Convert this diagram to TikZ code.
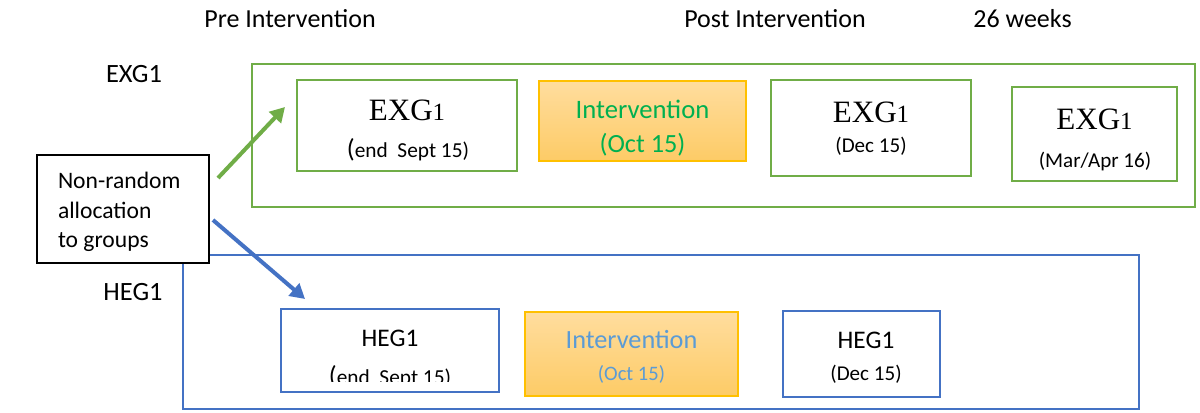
\documentclass[tikz,border=0pt]{standalone}
\usepackage{fontspec}
\setmainfont{Carlito}
\newfontfamily\serifface{Liberation Serif}
\usetikzlibrary{arrows.meta}
\definecolor{grn}{HTML}{70AD47}
\definecolor{blu}{HTML}{4472C4}
\definecolor{gtxt}{HTML}{00B050}
\definecolor{btxt}{HTML}{5B9BD5}
\definecolor{ordraw}{HTML}{FFC000}
\definecolor{ortop}{HTML}{FFDD9E}
\definecolor{orbot}{HTML}{FDCB66}
\def\pxu{0.75pt}
\newcommand{\exgname}{{\serifface\fontsize{23.3}{26}\selectfont EXG\fontsize{18.6}{22}\selectfont 1}}
\begin{document}
\begin{tikzpicture}[x=0.75pt,y=-0.75pt,
  box/.style={draw, inner sep=0pt, outer sep=0pt, line width=2.2pt},
  gbox/.style={box, draw=grn},
  bbox/.style={box, draw=blu},
  ibox/.style={box, draw=ordraw, line width=0.8pt, top color=ortop, bottom color=orbot},
  nrbox/.style={box, draw=black, fill=white, line width=1.2pt},
  txt/.style={inner sep=0pt, outer sep=0pt, anchor=base},
  hdr/.style={txt, font=\fontsize{19.5}{23}\selectfont},
  side/.style={txt, font=\fontsize{19.8}{23}\selectfont},
  sub/.style={txt, font=\fontsize{15.8}{19}\selectfont},
  heg/.style={txt, font=\fontsize{19}{22}\selectfont},
  arr/.style={line width=3pt, -{Triangle[length=11pt,width=12pt]}}
]
\useasboundingbox (0,0) rectangle (1200,412);

% column headings
\node[hdr] (pre)  at (290,27) {Pre Intervention};
\node[hdr] (post) at (775,27) {Post Intervention};
\node[hdr] (wk)   at (1022.5,27) {26 weeks};

% group labels
\node[side] (lexg) at (134,82) {EXG1};
\node[side] (lheg) at (133,300) {HEG1};

% group frames
\node[gbox, minimum width=943*\pxu, minimum height=143*\pxu] (gframe) at (723.5,135.5) {};
\node[bbox, minimum width=956*\pxu, minimum height=154*\pxu] (bframe) at (661,332) {};

% allocation box
\node[nrbox, minimum width=172*\pxu, minimum height=108*\pxu] (nr) at (123,209) {};
\node[txt, anchor=base west, font=\fontsize{17.7}{21}\selectfont] (nr1) at (58,188) {Non-random};
\node[txt, anchor=base west, font=\fontsize{17.7}{21}\selectfont] (nr2) at (58,218) {allocation};
\node[txt, anchor=base west, font=\fontsize{17.7}{21}\selectfont] (nr3) at (58,247) {to groups};

% EXG1 row
\node[gbox, minimum width=220*\pxu, minimum height=91*\pxu] (e1) at (407,125.5) {};
\node[txt] (e1a) at (407,120.5) {\exgname};
\node[sub, font=\fontsize{16}{19}\selectfont] (e1b) at (408,157) {{\fontsize{19.5}{19}\selectfont(}end\ \ Sept 15)};

\node[ibox, minimum width=207*\pxu, minimum height=80*\pxu] (gi) at (642.5,121) {};
\node[txt, text=gtxt, font=\fontsize{20}{24}\selectfont] (gia) at (642.5,118) {Intervention};
\node[txt, text=gtxt, font=\fontsize{19.7}{24}\selectfont] (gib) at (642.5,152) {(Oct 15)};

\node[gbox, minimum width=200*\pxu, minimum height=96*\pxu] (e2) at (871,128) {};
\node[txt] (e2a) at (871,122) {\exgname};
\node[sub] (e2b) at (871,152) {(Dec 15)};

\node[gbox, minimum width=165*\pxu, minimum height=94*\pxu] (e3) at (1094.5,134) {};
\node[txt] (e3a) at (1094.5,129) {\exgname};
\node[sub] (e3b) at (1095,167) {(Mar/Apr 16)};

% HEG1 row
\node[bbox, minimum width=218*\pxu, minimum height=83*\pxu] (h1) at (390,350.5) {};
\node[heg] (h1a) at (390,346) {HEG1};
\begin{scope}
  \clip (0,0) rectangle (1200,381);
  \node[sub, font=\fontsize{16}{19}\selectfont] (h1b) at (390,384) {{\fontsize{19.5}{19}\selectfont(}end\ \ Sept 15)};
\end{scope}

\node[ibox, minimum width=213*\pxu, minimum height=84*\pxu] (bi) at (631.5,354) {};
\node[txt, text=btxt, font=\fontsize{19.7}{24}\selectfont] (bia) at (631.5,348) {Intervention};
\node[txt, text=btxt, font=\fontsize{15.4}{19}\selectfont] (bib) at (631.5,380) {(Oct 15)};

\node[bbox, minimum width=157*\pxu, minimum height=86*\pxu] (h2) at (861.5,354) {};
\node[heg] (h2a) at (866,348) {HEG1};
\node[sub] (h2b) at (866,380) {(Dec 15)};

% allocation arrows
\coordinate (ga) at (218,178);
\coordinate (gb) at (285,107);
\coordinate (ba) at (213,220);
\coordinate (bb) at (305,299);
\draw[arr, draw=grn] (ga) -- (gb);
\draw[arr, draw=blu] (ba) -- (bb);
\end{tikzpicture}
\end{document}
